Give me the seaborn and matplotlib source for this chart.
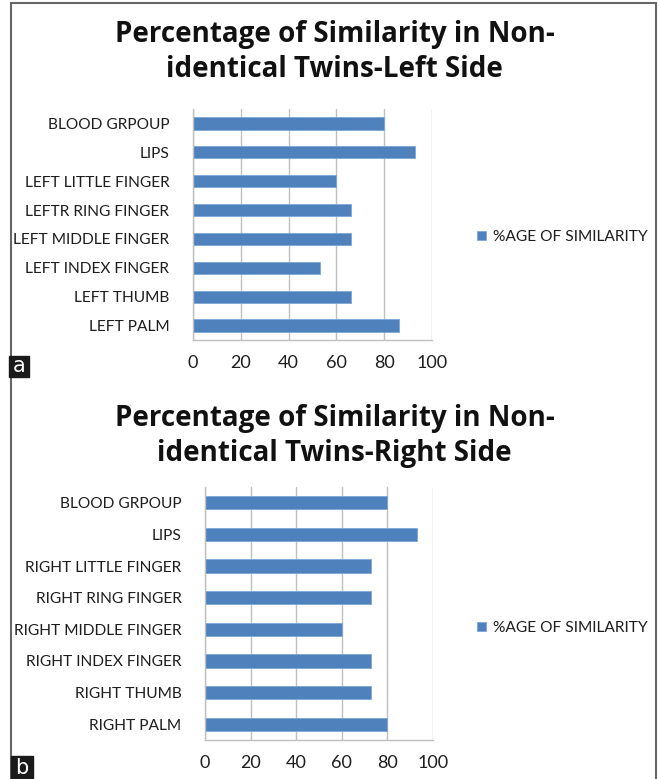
import matplotlib
matplotlib.use("Agg")
import matplotlib.pyplot as plt
import seaborn as sns
import pandas as pd
from matplotlib.patches import Rectangle

sns.set_style("white")
plt.rcParams["font.family"] = ["Lato", "DejaVu Sans"]

leftParts = ["BLOOD GRPOUP", "LIPS", "LEFT LITTLE FINGER", "LEFTR RING FINGER",
             "LEFT MIDDLE FINGER", "LEFT INDEX FINGER", "LEFT THUMB", "LEFT PALM"]
leftVals = [80, 93, 60, 66, 66, 53, 66, 86]

rightParts = ["BLOOD GRPOUP", "LIPS", "RIGHT LITTLE FINGER", "RIGHT RING FINGER",
              "RIGHT MIDDLE FINGER", "RIGHT INDEX FINGER", "RIGHT THUMB", "RIGHT PALM"]
rightVals = [80, 93, 73, 73, 60, 73, 73, 80]

xticks = [0, 20, 40, 60, 80, 100]
seriesName = "%AGE OF SIMILARITY"
titleA = "Percentage of Similarity in Non-\nidentical Twins-Left Side"
titleB = "Percentage of Similarity in Non-\nidentical Twins-Right Side"

barColor = "#4f81bd"
gridColor = "#bfbfbf"
textColor = "#1e1e1e"

W, H = 659, 779
fig = plt.figure(figsize=(W / 100, H / 100), dpi=100)


def drawPanel(rect, parts, vals, title, titleY, legY, tag, tagRect):
    ax = fig.add_axes(rect)
    df = pd.DataFrame({"part": parts, "val": vals})
    sns.barplot(data=df, x="val", y="part", orient="h", color=barColor,
                width=0.42, saturation=1, edgecolor="#7ea6d6", linewidth=0.6,
                label=seriesName, ax=ax)
    ax.set_xlim(0, 100)
    ax.set_ylim(len(parts) - 0.5, -0.5)
    ax.set_xticks(xticks)
    ax.set_xticklabels([str(t) for t in xticks], fontsize=13, color=textColor)
    # category separators as major ticks, labels on minor ticks (excel style)
    ax.set_yticks([i - 0.5 for i in range(len(parts) + 1)], minor=False)
    ax.set_yticklabels([])
    ax.set_yticks(range(len(parts)), minor=True)
    ax.set_yticklabels(parts, minor=True, fontsize=11.2, color=textColor)
    ax.tick_params(axis="y", which="minor", length=0, pad=17)
    ax.tick_params(axis="y", which="major", length=5, color=gridColor, width=1)
    ax.tick_params(axis="x", length=5, color=gridColor, width=1, pad=6)
    ax.set_xlabel("")
    ax.set_ylabel("")
    ax.grid(axis="x", color=gridColor, linewidth=1)
    ax.set_axisbelow(True)
    for side in ["top", "right"]:
        ax.spines[side].set_visible(False)
    for side in ["left", "bottom"]:
        ax.spines[side].set_color(gridColor)
        ax.spines[side].set_linewidth(1)
    leg = ax.legend(loc="center left", bbox_to_anchor=(463 / W, legY),
                    bbox_transform=fig.transFigure, frameon=False, fontsize=11.2,
                    handlelength=0.6, handleheight=0.6, handletextpad=0.4)
    for t in leg.get_texts():
        t.set_color(textColor)
    fig.text(0.508, titleY, title, ha="center", va="center", fontsize=20,
             fontweight="bold", linespacing=1.3, color="#111111",
             family=["Open Sans", "DejaVu Sans"])
    x0, y0, w0, h0 = tagRect
    fig.patches.append(Rectangle((x0 / W, 1 - (y0 + h0) / H), w0 / W, h0 / H,
                                 transform=fig.transFigure, color="#1a1a1a", zorder=5))
    fig.text((x0 + w0 / 2) / W, 1 - (y0 + h0 / 2) / H, tag, ha="center", va="center",
             color="white", fontsize=15, zorder=6, family=["DejaVu Sans"])
    return ax


drawPanel([193 / W, 1 - 340 / H, 239 / W, 231 / H], leftParts, leftVals,
          titleA, 1 - 52 / H, 1 - 237 / H, "a", (9, 356, 20, 21))
drawPanel([205 / W, 1 - 740 / H, 228 / W, 253 / H], rightParts, rightVals,
          titleB, 1 - 436 / H, 1 - 628 / H, "b", (11, 756, 22, 23))

fig.patches.append(Rectangle((11 / W, -0.01), 645 / W, 1 - 3 / H + 0.01,
                             transform=fig.transFigure, fill=False,
                             edgecolor="#666666", linewidth=1.5))

fig.savefig("out.png", dpi=100)
